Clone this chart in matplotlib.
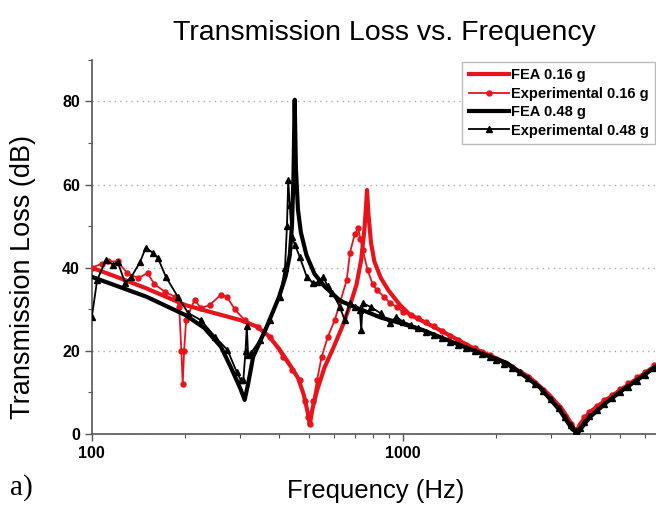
import numpy as np
import matplotlib
matplotlib.use("Agg")
import matplotlib.pyplot as plt
from matplotlib.ticker import NullFormatter, MultipleLocator

plt.rcParams['font.family'] = ['Liberation Sans', 'DejaVu Sans']

# FEA 0.16 g
fea16_f = [100, 125, 150, 200, 250, 300, 340, 370, 400, 430, 460, 480, 495, 502,
           512, 530, 560, 600, 640, 680, 710, 735, 752, 762, 767, 775, 790, 810,
           850, 900, 980, 1050, 1300, 1650, 2050, 2550, 2950, 3250, 3450, 3600,
           3750, 4000, 4500, 5000, 5700, 6500]
fea16_tl = [40, 37.3, 35, 31, 29, 27.4, 25.8, 23.6, 20.5, 17, 13.5, 9.5, 5, 2.2,
            6, 10.5, 16, 21, 26, 31.5, 36, 42, 49, 55, 58.7, 53, 46, 41.5,
            37.5, 34.5, 31, 28.8, 25.2, 21, 17.8, 13.7, 9.5, 6, 3, 0.5,
            2.8, 5.3, 8.2, 10.5, 13.3, 16.3]

# Experimental 0.16 g
exp16_f = [100, 108, 113, 121, 130, 141, 151, 159, 172, 185, 191, 194, 196, 198,
           201, 214, 224, 239, 260, 272, 288, 310, 342, 373, 411, 440, 466, 485,
           495, 503, 515, 530, 548, 574, 604, 630, 660, 676, 700, 718, 730, 743,
           770, 800, 823, 870, 910, 960, 1000, 1060, 1120, 1190, 1260, 1340, 1420,
           1500, 1600, 1700, 1800, 1900, 2000, 2120, 2250, 2380, 2520, 2670, 2830,
           3000, 3170, 3330, 3480, 3600, 3700, 3830, 3980, 4200, 4450, 4700, 5000,
           5300, 5650, 6000, 6400]
exp16_tl = [40, 41, 41.5, 41.5, 38.7, 37.5, 38.7, 36, 34.2, 33, 30.5, 20, 12, 20,
            27.4, 32.3, 30.3, 31, 33.5, 33, 30, 27.4, 25.8, 23.4, 18.5, 15.5, 13, 8,
            4, 2.5, 8, 13, 18.5, 23.4, 27.4, 32, 37, 43.6, 48, 49.5, 47, 44.3,
            39.5, 36, 34.7, 33, 31.5, 30.5, 29.3, 28.6, 27.8, 26.9, 25.9, 24.7, 23.6,
            22.6, 21.5, 20.6, 19.7, 18.9, 18, 17, 16, 14.9, 13.7, 12.2, 10.5,
            8.5, 6.5, 4.4, 2.4, 1, 2.2, 4, 5.3, 6.7, 8.1, 9.4, 10.8,
            12.2, 13.6, 15, 16.5]

# FEA 0.48 g
fea48_f = [100, 150, 200, 230, 260, 280, 300, 310, 318, 330, 365, 400, 420, 433,
           440, 445, 449, 453, 460, 470, 490, 520, 560, 630, 730, 850, 1000, 1160,
           1400, 1670, 2160, 2750, 3190, 3500, 3650, 3800, 4000, 4500, 5100, 5800,
           6500]
fea48_tl = [37.8, 33, 28.6, 25.5, 21, 16, 11, 8.2, 12, 18.5, 25.8, 33, 38, 43,
            50, 62, 80.4, 64, 54, 48.5, 43, 38.5, 35.5, 32, 30, 28, 26.5, 25,
            22.5, 20.2, 17.1, 11.3, 5.8, 1.2, 0.2, 2, 4.1, 7.5, 10.6, 13.5,
            16.2]

# Experimental 0.48 g
exp48_f = [100, 104, 111, 117, 121, 128, 134, 143, 149, 157, 163, 173, 189, 204,
           224, 249, 273, 292, 301, 307, 312, 315, 318, 325, 347, 373, 402, 418,
           424, 428, 433, 439, 450, 466, 491, 514, 534, 554, 574, 594, 627, 650,
           676, 700, 727, 735, 743, 790, 850, 910, 953, 1000, 1060, 1120, 1190,
           1260, 1340, 1420, 1500, 1600, 1700, 1800, 1900, 2000, 2120, 2250, 2380,
           2520, 2670, 2830, 3000, 3170, 3330, 3480, 3600, 3700, 3830, 3980, 4200,
           4450, 4700, 5000, 5300, 5650, 6000, 6400]
exp48_tl = [28.2, 37, 41.9, 40.7, 41.4, 36.3, 37.8, 41.4, 44.8, 43.6, 42.4, 37.8, 33, 29.1,
            27.4, 23.4, 20.2, 15, 13, 13, 20, 26, 19, 19.5, 22.6, 27.4, 33, 40,
            50, 61, 55, 47.4, 45.5, 42.6, 37.8, 36.3, 36.5, 37.8, 35.5, 33.9, 30.6, 27.4,
            31.5, 30.5, 29.9, 25, 31.5, 30.5, 29, 26.7, 28.2, 27, 26.3, 25.6, 24.6,
            23.8, 23, 22.2, 21.5, 20.8, 20, 19.3, 18.6, 17.8, 16.9, 15.9, 14.8,
            13.5, 12, 10.3, 8.3, 6.3, 4.2, 2.2, 0.8, 1.5, 3, 4.3, 5.8,
            7.3, 8.6, 10, 11.4, 12.8, 14.2, 15.8]

RED = '#e8141c'

fig = plt.figure(figsize=(6.56, 5.07), dpi=100)
ax = fig.add_axes([0.140, 0.144, 0.893, 0.738])

ax.plot(fea16_f, fea16_tl, color=RED, lw=3.0, label='FEA 0.16 g', zorder=3)
ax.plot(exp16_f, exp16_tl, color=RED, lw=1.3, marker='o', ms=3.6,
        label='Experimental 0.16 g', zorder=4)
ax.plot(fea48_f, fea48_tl, color='black', lw=3.0, label='FEA 0.48 g', zorder=5)
ax.plot(exp48_f, exp48_tl, color='black', lw=1.3, marker='^', ms=4.2,
        label='Experimental 0.48 g', zorder=6)

ax.set_xscale('log')
ax.set_xlim(100, 7650)
ax.set_ylim(0, 90)
ax.set_xticks([100, 1000])
ax.set_xticklabels(['100', '1000'])
ax.xaxis.set_minor_formatter(NullFormatter())
ax.set_yticks([0, 20, 40, 60, 80])
ax.yaxis.set_minor_locator(MultipleLocator(10))
ax.tick_params(which='major', direction='out', length=5, width=1, labelsize=11.5,
               color='#555555')
ax.tick_params(which='minor', direction='out', length=3, width=0.8, color='#555555')
for lab in ax.get_xticklabels() + ax.get_yticklabels():
    lab.set_fontweight('bold')

for s in ['top', 'right']:
    ax.spines[s].set_visible(False)
for s in ['left', 'bottom']:
    ax.spines[s].set_color('#555555')
    ax.spines[s].set_linewidth(1.2)

ax.yaxis.grid(True, linestyle=(0, (1, 3)), color='#aaaaaa', lw=1)
ax.set_axisbelow(True)

ax.set_title('Transmission Loss vs. Frequency', fontsize=20.5, pad=14)
ax.set_xlabel('Frequency (Hz)', fontsize=18.5)
ax.xaxis.set_label_coords(0.485, -0.12)
ax.set_ylabel('Transmission Loss (dB)', fontsize=19.5)
ax.yaxis.set_label_coords(-0.095, 0.42)

fig.text(0.015, 0.025, 'a)', fontsize=21, family='Liberation Serif')

leg = fig.legend(loc='upper right', bbox_to_anchor=(0.999, 0.878),
                 fontsize=10.5, handlelength=2.8, handletextpad=0.1,
                 labelspacing=0.3, borderpad=0.45, borderaxespad=0,
                 fancybox=False, framealpha=1, edgecolor='#bbbbbb')
for t in leg.get_texts():
    t.set_fontweight('bold')

fig.savefig('out.png', dpi=100)
